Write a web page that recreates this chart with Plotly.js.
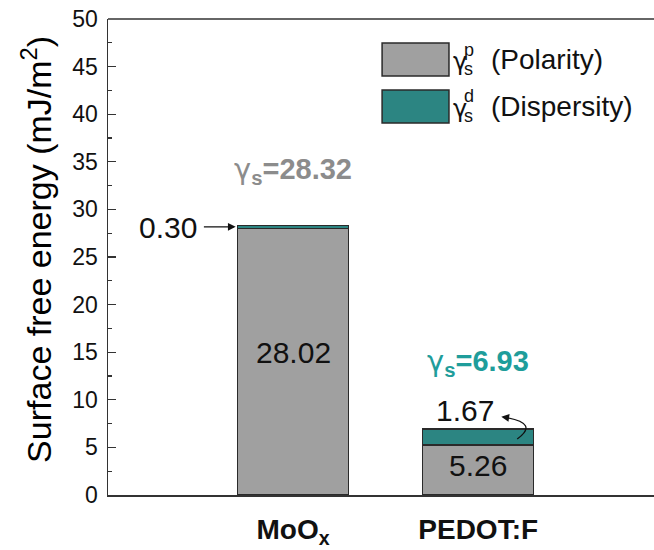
<!DOCTYPE html>
<html>
<head>
<meta charset="utf-8">
<script src="https://cdn.plot.ly/plotly-3.0.1.min.js"></script>
<style>html,body{margin:0;padding:0;background:#fff;}#chart{width:654px;height:550px;}</style>
</head>
<body>
<div id="chart"></div>
<script>
// ---- data ----
const categories = ["MoOx", "PEDOT:F"];
const tickLabels = ["<b>MoO<sub>x</sub></b>", "<b>PEDOT:F</b>"];
const polarity = [28.02, 5.26];     // gamma_s^p
const dispersity = [0.30, 1.67];    // gamma_s^d
const totals = [28.32, 6.93];       // gamma_s
const seriesNames = ["(Polarity)", "(Dispersity)"];
const yTicks = [0, 5, 10, 15, 20, 25, 30, 35, 40, 45, 50];

// ---- styles ----
const GRAY = "#a0a0a0", TEAL = "#2c8582", EDGE = "#2a2a2a";
const GRAY_TXT = "#8c8c8c", TEAL_TXT = "#1f9d9b";
const FONT = "Liberation Sans, Arial, sans-serif";
const G = '<span style="font-family:DejaVu Sans, sans-serif;font-weight:normal">γ</span>';
const xIdx = categories.map((c, i) => i);

const traces = [
  {type: "bar", x: xIdx, y: polarity, name: seriesNames[0], width: 0.6,
   marker: {color: GRAY, line: {color: EDGE, width: 1.5}}, showlegend: false, hoverinfo: "y"},
  {type: "bar", x: xIdx, y: dispersity, name: seriesNames[1], width: 0.6,
   marker: {color: TEAL, line: {color: EDGE, width: 1.5}}, showlegend: false, hoverinfo: "y"}
];

const ann = [];
const shapes = [];
// y-axis title
ann.push({xref: "paper", yref: "paper", x: -0.13, y: 0.515, text: "Surface free energy (mJ/m<sup>2</sup>)",
  textangle: -90, showarrow: false, font: {family: FONT, size: 34, color: "#000"}, xanchor: "center", yanchor: "middle"});
// totals
ann.push({x: xIdx[0], y: totals[0] + 5.8, text: "<b>" + G + "<sub>s</sub>=" + totals[0].toFixed(2) + "</b>", showarrow: false,
  font: {family: FONT, size: 29, color: GRAY_TXT}});
ann.push({x: xIdx[1], y: totals[1] + 7.0, text: "<b>" + G + "<sub>s</sub>=" + totals[1].toFixed(2) + "</b>", showarrow: false,
  font: {family: FONT, size: 29, color: TEAL_TXT}});
// polarity values inside bars
ann.push({x: xIdx[0], y: polarity[0] * 0.535, text: polarity[0].toFixed(2), showarrow: false, font: {family: FONT, size: 30, color: "#111"}});
ann.push({x: xIdx[1], y: polarity[1] * 0.58, text: polarity[1].toFixed(2), showarrow: false, font: {family: FONT, size: 30, color: "#111"}});
// dispersity 0.30 with straight arrow
const midTop0 = polarity[0] + dispersity[0] / 2;
ann.push({x: xIdx[0] - 0.676, y: midTop0 - 0.1, text: dispersity[0].toFixed(2), showarrow: false, font: {family: FONT, size: 30, color: "#111"}});
ann.push({x: xIdx[0] - 0.31, y: midTop0, ax: xIdx[0] - 0.49, ay: midTop0, axref: "x", ayref: "y", text: "",
  showarrow: true, arrowhead: 2, arrowsize: 1.2, arrowwidth: 1.3, arrowcolor: "#111"});
// dispersity 1.67 with curved arrow
ann.push({x: xIdx[1] - 0.07, y: totals[1] + 1.9, text: dispersity[1].toFixed(2), showarrow: false, font: {family: FONT, size: 30, color: "#111"}});
const cx0 = xIdx[1] + 0.211, cy0 = polarity[1] + dispersity[1] * 0.37;
const cx1 = xIdx[1] + 0.33, cy1 = totals[1] + 0.6;
const cx2 = xIdx[1] + 0.15, cy2 = totals[1] + 1.22;
shapes.push({type: "path", xref: "x", yref: "y", path: `M ${cx0} ${cy0} Q ${cx1} ${cy1} ${cx2} ${cy2}`,
  line: {color: "#111", width: 1.3}});
ann.push({x: xIdx[1] + 0.125, y: totals[1] + 1.3, ax: cx2 + 0.01, ay: cy2 - 0.02, axref: "x", ayref: "y", text: "",
  showarrow: true, arrowhead: 2, arrowsize: 1.2, arrowwidth: 1.3, arrowcolor: "#111"});

// top frame line
shapes.push({type: "line", xref: "paper", yref: "paper", x0: 0, x1: 1, y0: 1, y1: 1, line: {color: "#333", width: 1.5}});

// custom legend
const legRows = [{y0: 0.880, y1: 0.9496, color: GRAY, sup: "p", name: seriesNames[0]},
                 {y0: 0.7815, y1: 0.851, color: TEAL, sup: "d", name: seriesNames[1]}];
legRows.forEach(r => {
  shapes.push({type: "rect", xref: "paper", yref: "paper", x0: 0.502, x1: 0.6245, y0: r.y0, y1: r.y1,
    fillcolor: r.color, line: {color: EDGE, width: 1.5}});
  const yc = (r.y0 + r.y1) / 2;
  ann.push({xref: "paper", yref: "paper", x: 0.628, y: yc - 0.006, xanchor: "left", yanchor: "middle", text: G, showarrow: false,
    font: {family: FONT, size: 24, color: "#111"}});
  ann.push({xref: "paper", yref: "paper", x: 0.648, y: yc - 0.019, xanchor: "left", yanchor: "middle", text: "s", showarrow: false,
    font: {family: FONT, size: 18, color: "#111"}});
  ann.push({xref: "paper", yref: "paper", x: 0.649, y: yc + 0.021, xanchor: "left", yanchor: "middle", text: r.sup, showarrow: false,
    font: {family: FONT, size: 18, color: "#111"}});
  ann.push({xref: "paper", yref: "paper", x: 0.697, y: yc, xanchor: "left", yanchor: "middle", text: r.name, showarrow: false,
    font: {family: FONT, size: 28, color: "#111"}});
});

const layout = {
  width: 654, height: 550,
  margin: {l: 108, r: 0, t: 19, b: 55},
  paper_bgcolor: "#fff", plot_bgcolor: "#fff",
  barmode: "stack",
  showlegend: false,
  xaxis: {range: [-1, 1.95], tickvals: xIdx, ticktext: tickLabels, ticks: "", showgrid: false, zeroline: false,
    showline: true, linecolor: "#333", linewidth: 1.5, tickfont: {family: FONT, size: 28, color: "#111"},
    ticklabelstandoff: 9},
  yaxis: {range: [0, 50], tickvals: yTicks, ticks: "inside", ticklen: 8, tickwidth: 1.3, tickcolor: "#333",
    minor: {dtick: 2.5, ticks: "inside", ticklen: 4, tickwidth: 1.3, tickcolor: "#333"},
    showgrid: false, zeroline: false, showline: true, linecolor: "#333", linewidth: 1.5,
    tickfont: {family: FONT, size: 23, color: "#111"}, ticklabelstandoff: 4},
  annotations: ann,
  shapes: shapes
};

Plotly.newPlot("chart", traces, layout, {displayModeBar: false, staticPlot: true});
</script>
</body>
</html>
